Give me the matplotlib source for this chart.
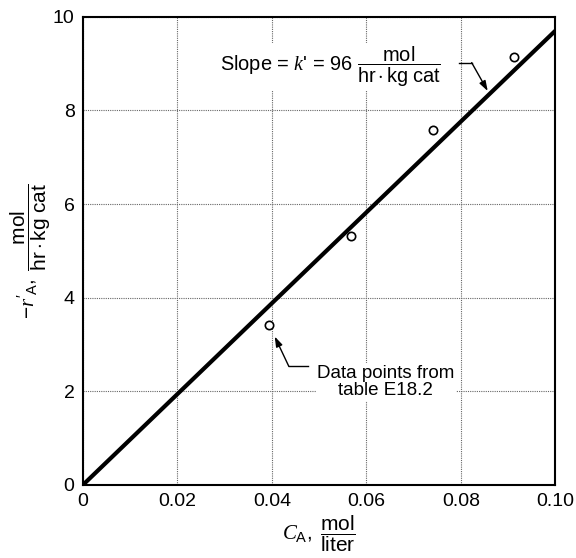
import numpy as np
import matplotlib
matplotlib.use("Agg")
import matplotlib.pyplot as plt

# data points from table E18.2
ca = [0.0394, 0.0567, 0.0741, 0.0913]
ra = [3.42, 5.32, 7.59, 9.15]
k_slope = 96
x_ticks = [0, 0.02, 0.04, 0.06, 0.08, 0.10]
x_labels = ["0", "0.02", "0.04", "0.06", "0.08", "0.10"]
y_ticks = [0, 2, 4, 6, 8, 10]

plt.rcParams["font.family"] = ["Liberation Sans", "DejaVu Sans"]
plt.rcParams["mathtext.fontset"] = "custom"
plt.rcParams["mathtext.rm"] = "Liberation Sans"
plt.rcParams["mathtext.it"] = "Liberation Serif:italic"

fig = plt.figure(figsize=(5.76, 5.58), dpi=100)
ax = fig.add_axes([0.144, 0.131, 0.820, 0.839])

x_line = np.array([0, 0.1])
ax.plot(x_line, 97 * x_line, color="black", lw=3, solid_capstyle="butt", zorder=3)
ax.plot(ca, ra, "o", mfc="white", mec="black", ms=6, mew=1.2, zorder=4)

ax.set_xlim(0, 0.1)
ax.set_ylim(0, 10)
ax.set_xticks(x_ticks)
ax.set_xticklabels(x_labels)
ax.set_yticks(y_ticks)
ax.tick_params(length=0, labelsize=14, pad=6)
ax.grid(True, color="#666666", ls=(0, (1, 1)), lw=0.8)
for s in ax.spines.values():
    s.set_linewidth(1.5)

ax.set_xlabel(r"$C_{\mathrm{A}},\ \dfrac{\mathrm{mol}}{\mathrm{liter}}$", fontsize=15, labelpad=2)
ax.set_ylabel(r"$-r'_{\mathrm{A}},\ \dfrac{\mathrm{mol}}{\mathrm{hr \cdot kg\ cat}}$",
              fontsize=15, labelpad=0)

# slope label
ax.text(0.0291, 8.93, r"Slope = $k$' = %d $\dfrac{\mathrm{mol}}{\mathrm{hr \cdot kg\ cat}}$" % k_slope,
        fontsize=14.4, ha="left", va="center", zorder=5,
        bbox=dict(fc="white", ec="none", pad=1))
ax.plot([0.0797, 0.0823], [9.02, 9.02], color="black", lw=1, zorder=5)
ax.annotate("", xy=(0.0857, 97 * 0.0857 + 0.1), xytext=(0.0823, 9.02),
            arrowprops=dict(arrowstyle="-|>,head_length=0.6,head_width=0.2",
                            color="black", lw=1, shrinkA=0, shrinkB=0), zorder=5)

# data points label
ax.text(0.0641, 2.2, "Data points from\ntable E18.2", fontsize=13.5, ha="center",
        va="center", linespacing=1.05, zorder=5,
        bbox=dict(fc="white", ec="none", pad=1))
ax.plot([0.0436, 0.0477], [2.53, 2.53], color="black", lw=1, zorder=5)
ax.annotate("", xy=(ca[0] + 0.0012, ra[0] - 0.25), xytext=(0.0436, 2.53),
            arrowprops=dict(arrowstyle="-|>,head_length=0.6,head_width=0.2",
                            color="black", lw=1, shrinkA=0, shrinkB=0), zorder=5)

fig.savefig("out.png", dpi=100)
